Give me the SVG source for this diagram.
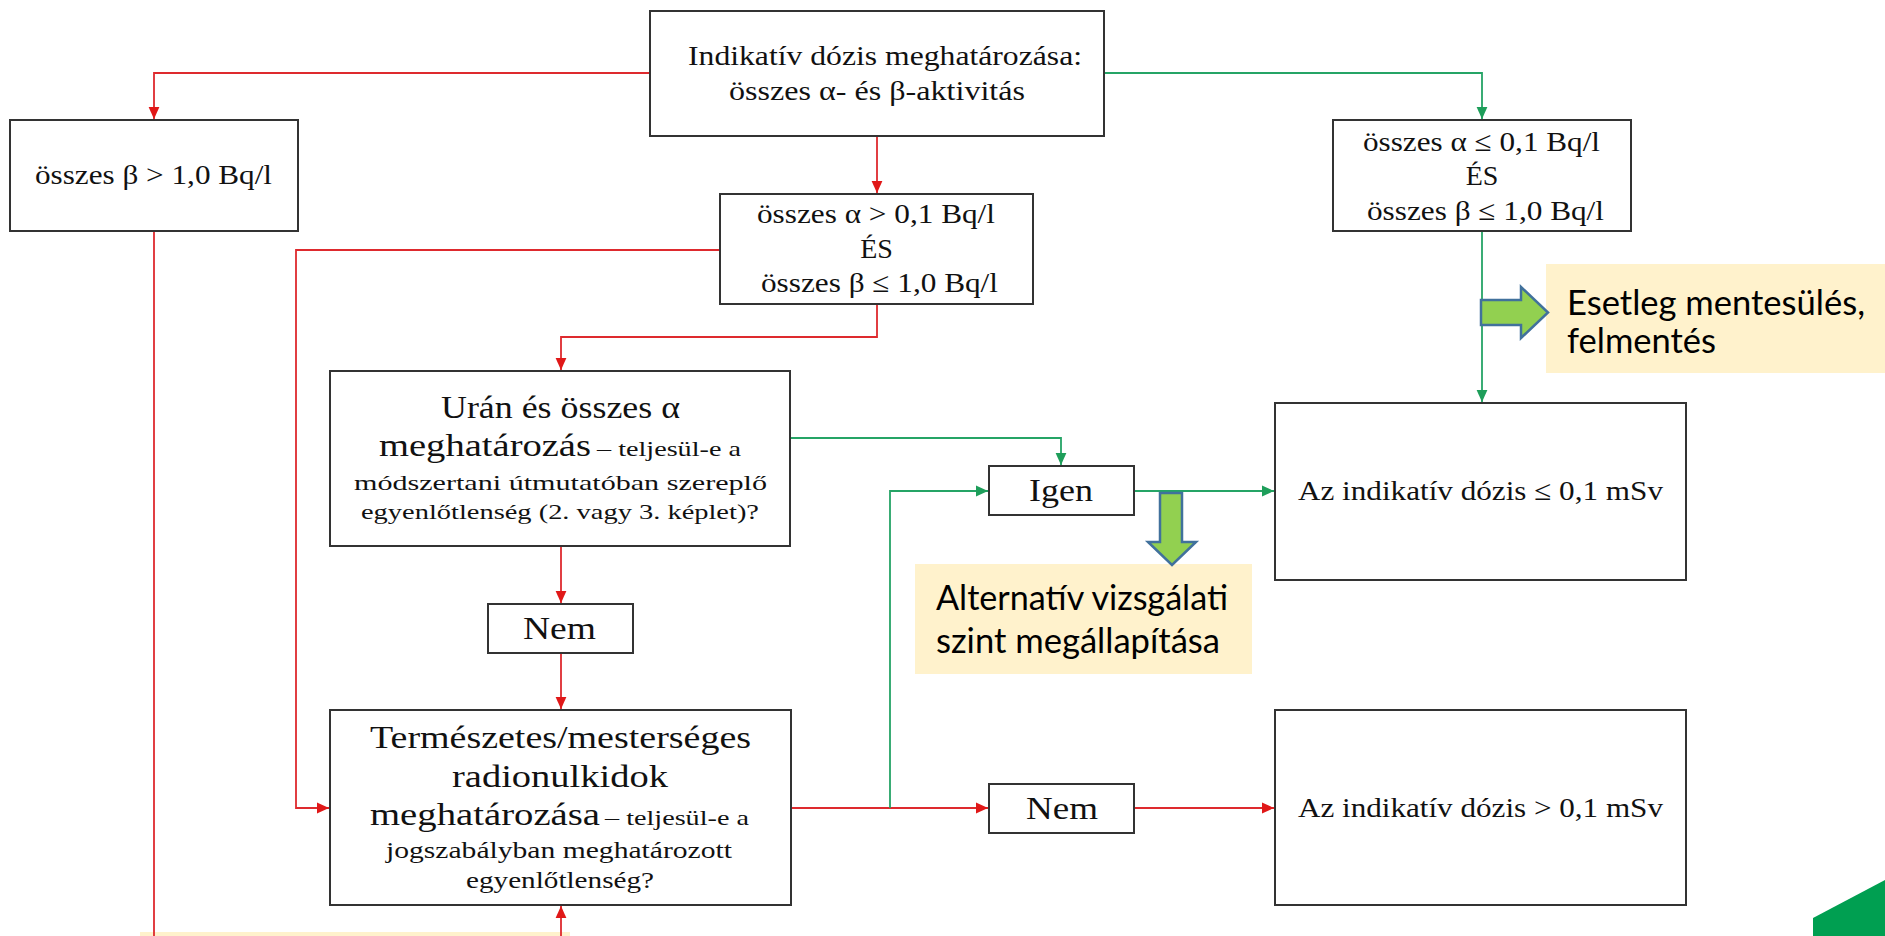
<svg xmlns="http://www.w3.org/2000/svg" width="1885" height="936" viewBox="0 0 1885 936">
<style>
.box{fill:#fff;stroke:#333;stroke-width:2}
.t{font-family:"Liberation Serif","Times New Roman",serif;fill:#111}
.c{font-family:Lato,"Open Sans","Liberation Sans",sans-serif;fill:#000}
.r{fill:none;stroke:#DE2A2E;stroke-width:1.8}
.g{fill:none;stroke:#25A466;stroke-width:1.8}
.ar{marker-end:url(#mr)}
.ag{marker-end:url(#mg)}
.call{fill:#FFF2CC}
.fat{fill:#92D050;stroke:#41719C;stroke-width:2.5}
</style>
<defs>
<marker id="mr" markerUnits="userSpaceOnUse" markerWidth="12" markerHeight="12" viewBox="0 0 10 10" refX="10" refY="5" orient="auto"><path d="M0,0.5 L10,5 L0,9.5 Z" fill="#E01818"/></marker>
<marker id="mg" markerUnits="userSpaceOnUse" markerWidth="12" markerHeight="12" viewBox="0 0 10 10" refX="10" refY="5" orient="auto"><path d="M0,0.5 L10,5 L0,9.5 Z" fill="#1E9E5A"/></marker>
</defs>
<rect width="1885" height="936" fill="#fff"/>
<rect class="call" x="140" y="932" width="430" height="4"/>
<g id="connectors">
<path class="r ar" d="M650,73 H154 V119"/>
<path class="r ar" d="M877,136 V193"/>
<path class="r ar" d="M877,304 V337 H561 V370"/>
<path class="r ar" d="M720,250 H296 V808 H329"/>
<path class="r ar" d="M561,546 V603"/>
<path class="r ar" d="M561,653 V709"/>
<path class="r" d="M154,231 V936"/>
<path class="r ar" d="M561,936 V906"/>
<path class="r ar" d="M791,808 H988"/>
<path class="r ar" d="M1134,808 H1274"/>
<path class="g ag" d="M1104,73 H1482 V119"/>
<path class="g ag" d="M1482,231 V402"/>
<path class="g ag" d="M790,438 H1061 V465"/>
<path class="g ag" d="M890,808 V491 H988"/>
<path class="g ag" d="M1134,491 H1274"/>
</g>
<g id="n-main">
<rect class="box" x="650" y="11" width="454" height="125"/>
<text class="t" x="688" y="65" font-size="28" textLength="394" lengthAdjust="spacingAndGlyphs">Indikatív dózis meghatározása:</text>
<text class="t" x="729" y="100" font-size="28" textLength="296" lengthAdjust="spacingAndGlyphs">összes α- és β-aktivitás</text>
</g>
<g id="n-beta">
<rect class="box" x="10" y="120" width="288" height="111"/>
<text class="t" x="35" y="184" font-size="28" textLength="237" lengthAdjust="spacingAndGlyphs">összes β &gt; 1,0 Bq/l</text>
</g>
<g id="n-alpha-gt">
<rect class="box" x="720" y="194" width="313" height="110"/>
<text class="t" x="757" y="223" font-size="28" textLength="238" lengthAdjust="spacingAndGlyphs">összes α &gt; 0,1 Bq/l</text>
<text class="t" x="876.5" y="258" font-size="28" text-anchor="middle">ÉS</text>
<text class="t" x="761" y="292" font-size="28" textLength="237" lengthAdjust="spacingAndGlyphs">összes β ≤ 1,0 Bq/l</text>
</g>
<g id="n-alpha-le">
<rect class="box" x="1333" y="120" width="298" height="111"/>
<text class="t" x="1363" y="151" font-size="28" textLength="237" lengthAdjust="spacingAndGlyphs">összes α ≤ 0,1 Bq/l</text>
<text class="t" x="1482" y="185" font-size="28" text-anchor="middle">ÉS</text>
<text class="t" x="1367" y="220" font-size="28" textLength="237" lengthAdjust="spacingAndGlyphs">összes β ≤ 1,0 Bq/l</text>
</g>
<g id="n-uran">
<rect class="box" x="330" y="371" width="460" height="175"/>
<text class="t" x="441" y="418" font-size="32" textLength="239" lengthAdjust="spacingAndGlyphs">Urán és összes α</text>
<text class="t" x="379" y="456" font-size="32" textLength="212" lengthAdjust="spacingAndGlyphs">meghatározás</text>
<text class="t" x="597" y="456" font-size="22" textLength="144" lengthAdjust="spacingAndGlyphs">– teljesül-e a</text>
<text class="t" x="354" y="490" font-size="22" textLength="413" lengthAdjust="spacingAndGlyphs">módszertani útmutatóban szereplő</text>
<text class="t" x="361" y="519" font-size="22" textLength="398" lengthAdjust="spacingAndGlyphs">egyenlőtlenség (2. vagy 3. képlet)?</text>
</g>
<g id="n-nem1">
<rect class="box" x="488" y="604" width="145" height="49"/>
<text class="t" x="523" y="639" font-size="31" textLength="73" lengthAdjust="spacingAndGlyphs">Nem</text>
</g>
<g id="n-term">
<rect class="box" x="330" y="710" width="461" height="195"/>
<text class="t" x="370" y="748" font-size="32" textLength="381" lengthAdjust="spacingAndGlyphs">Természetes/mesterséges</text>
<text class="t" x="452" y="787" font-size="32" textLength="216" lengthAdjust="spacingAndGlyphs">radionulkidok</text>
<text class="t" x="370" y="825" font-size="32" textLength="230" lengthAdjust="spacingAndGlyphs">meghatározása</text>
<text class="t" x="605" y="825" font-size="22" textLength="144" lengthAdjust="spacingAndGlyphs">– teljesül-e a</text>
<text class="t" x="386" y="858" font-size="23" textLength="346" lengthAdjust="spacingAndGlyphs">jogszabályban meghatározott</text>
<text class="t" x="466" y="888" font-size="23" textLength="188" lengthAdjust="spacingAndGlyphs">egyenlőtlenség?</text>
</g>
<g id="n-igen">
<rect class="box" x="989" y="466" width="145" height="49"/>
<text class="t" x="1029" y="501" font-size="31" textLength="64" lengthAdjust="spacingAndGlyphs">Igen</text>
</g>
<g id="n-nem2">
<rect class="box" x="989" y="784" width="145" height="49"/>
<text class="t" x="1026" y="819" font-size="31" textLength="72" lengthAdjust="spacingAndGlyphs">Nem</text>
</g>
<g id="n-le">
<rect class="box" x="1275" y="403" width="411" height="177"/>
<text class="t" x="1298" y="500" font-size="28" textLength="365" lengthAdjust="spacingAndGlyphs">Az indikatív dózis ≤ 0,1 mSv</text>
</g>
<g id="n-gt">
<rect class="box" x="1275" y="710" width="411" height="195"/>
<text class="t" x="1298" y="817" font-size="28" textLength="365" lengthAdjust="spacingAndGlyphs">Az indikatív dózis &gt; 0,1 mSv</text>
</g>
<g id="callout-mentes">
<rect class="call" x="1546" y="264" width="339" height="109"/>
<text class="c" x="1567" y="315" font-size="35" textLength="298" lengthAdjust="spacingAndGlyphs">Esetleg mentesülés,</text>
<text class="c" x="1567" y="353" font-size="35" textLength="149" lengthAdjust="spacingAndGlyphs">felmentés</text>
<path class="fat" d="M1481,300 H1521 V287 L1548,312.5 L1521,338 V325 H1481 Z"/>
</g>
<g id="callout-alt">
<rect class="call" x="915" y="564" width="337" height="110"/>
<text class="c" x="936" y="610" font-size="35" textLength="292" lengthAdjust="spacingAndGlyphs">Alternatív vizsgálati</text>
<text class="c" x="936" y="653" font-size="35" textLength="284" lengthAdjust="spacingAndGlyphs">szint megállapítása</text>
<path class="fat" d="M1160,493 H1182 V542 H1196 L1172,565 L1148,542 H1160 Z"/>
</g>
<polygon points="1813,918 1885,880 1885,936 1813,936" fill="#009F51"/>
</svg>
